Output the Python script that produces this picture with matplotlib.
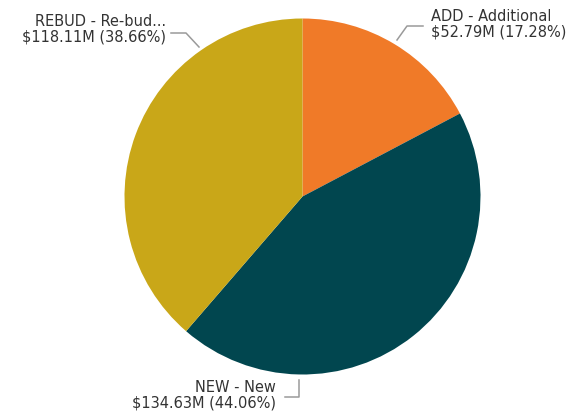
import matplotlib.pyplot as plt
from matplotlib.lines import Line2D

codes = ["ADD - Additional", "NEW - New", "REBUD - Re-bud..."]
amounts = [52.79, 134.63, 118.11]  # $M
shares = [17.28, 44.06, 38.66]     # %
colors = ["#F07A28", "#01464F", "#C9A718"]

W, H = 582, 415
plt.rcParams["font.family"] = ["DejaVu Sans"]

fig = plt.figure(figsize=(W / 100, H / 100), dpi=100)

# pie area in pixels: centre (302.5, 196.5), radius 178
cx, cy, r = 302.5, 196.5, 178
ax = fig.add_axes([(cx - r) / W, (H - cy - r) / H, 2 * r / W, 2 * r / H])
ax.pie(amounts, colors=colors, startangle=90, counterclock=False,
       radius=1, wedgeprops=dict(linewidth=0))
ax.set_xlim(-1, 1)
ax.set_ylim(-1, 1)
ax.set_aspect("auto")
ax.axis("off")


def fx(x):
    return x / W


def fy(y):
    return 1 - y / H


def leader(pts):
    xs = [fx(p[0]) for p in pts]
    ys = [fy(p[1]) for p in pts]
    fig.add_artist(Line2D(xs, ys, color="#9a9a9a", lw=1.1,
                          transform=fig.transFigure))


def label(i, x, y, ha):
    txt = f"{codes[i]}\n${amounts[i]:.2f}M ({shares[i]:.2f}%)"
    fig.text(fx(x), fy(y), txt, ha=ha, va="center", fontsize=11.7,
             fontstretch="condensed", color="#333333", linespacing=1.07,
             multialignment=ha)


label(0, 431, 24, "left")
leader([(397, 40), (407, 26), (423, 26)])

label(2, 166, 29, "right")
leader([(171, 33), (186, 33), (199, 47)])

label(1, 276, 395, "right")
leader([(299, 380), (299, 397), (285, 397)])

fig.savefig("out.png", dpi=100)
